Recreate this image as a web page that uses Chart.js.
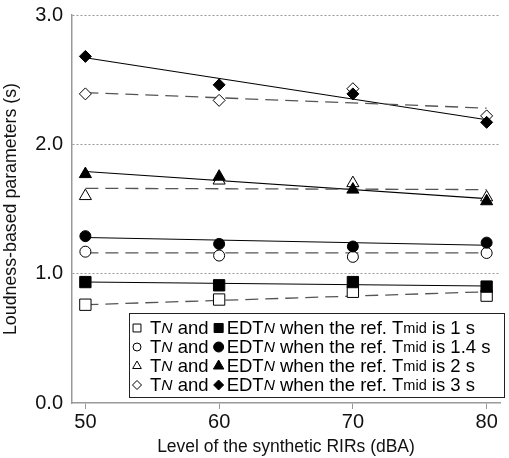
<!DOCTYPE html>
<html>
<head>
<meta charset="utf-8">
<script src="https://cdn.jsdelivr.net/npm/chart.js@4/dist/chart.umd.min.js"></script>
<style>
  html, body { margin: 0; padding: 0; background: #fff; }
  #wrap { width: 509px; height: 458px; }
</style>
</head>
<body>
<div id="wrap"><canvas id="chart"></canvas></div>
<script>
// levels of the synthetic RIRs (dBA)
const levels = [50, 60, 70, 80];
const xTicks = [50, 60, 70, 80];
const yTicks = [0, 1, 2, 3];

// TN (open markers) and EDTN (filled markers) for each ref. Tmid
const tn1 = [0.76, 0.80, 0.86, 0.83];
const edt1 = [0.935, 0.91, 0.935, 0.90];
const tn14 = [1.17, 1.14, 1.13, 1.16];
const edt14 = [1.29, 1.23, 1.21, 1.24];
const tn2 = [1.60, 1.72, 1.70, 1.59];
const edt2 = [1.77, 1.75, 1.65, 1.56];
const tn3 = [2.39, 2.34, 2.43, 2.22];
const edt3 = [2.68, 2.46, 2.39, 2.17];

// fitted trend lines, value at 50 and at 80 dBA
const trendX = [50, 80];
const tn1Fit = [0.76, 0.86];
const edt1Fit = [0.935, 0.905];
const tn14Fit = [1.16, 1.16];
const edt14Fit = [1.28, 1.22];
const tn2Fit = [1.66, 1.65];
const edt2Fit = [1.79, 1.58];
const tn3Fit = [2.40, 2.28];
const edt3Fit = [2.67, 2.19];

const groups = [
  { style: 'rect', tn: tn1, edt: edt1, tnFit: tn1Fit, edtFit: edt1Fit, label: '1 s', r: 8, lo: 5.6, lf: 6.4 },
  { style: 'circle', tn: tn14, edt: edt14, tnFit: tn14Fit, edtFit: edt14Fit, label: '1.4 s', r: 5.5, lo: 4, lf: 5 },
  { style: 'triangle', tn: tn2, edt: edt2, tnFit: tn2Fit, edtFit: edt2Fit, label: '2 s', r: 7, lo: 5, lf: 6 },
  { style: 'rectRot', tn: tn3, edt: edt3, tnFit: tn3Fit, edtFit: edt3Fit, label: '3 s', r: 6, lo: 4.5, lf: 5 }
];

const pts = (xs, ys) => xs.map((x, i) => ({ x: x, y: ys[i] }));

const datasets = [];
groups.forEach(g => {
  datasets.push({
    type: 'line', data: pts(trendX, g.tnFit), borderColor: '#555', borderWidth: 1.3,
    borderDash: [13, 7], pointRadius: 0, fill: false, order: 5
  });
  datasets.push({
    type: 'line', data: pts(trendX, g.edtFit), borderColor: '#000', borderWidth: 1.1,
    pointRadius: 0, fill: false, order: 5
  });
  datasets.push({
    data: pts(levels, g.tn), pointStyle: g.style, pointRadius: g.r,
    backgroundColor: '#fff', borderColor: '#000', borderWidth: 1, showLine: false, order: 2
  });
  datasets.push({
    data: pts(levels, g.edt), pointStyle: g.style, pointRadius: g.r,
    backgroundColor: '#000', borderColor: '#000', borderWidth: 1, showLine: false, order: 1
  });
});

const FONT = '"Liberation Sans", Arial, sans-serif';

const legendBox = {
  id: 'legendBox',
  afterDraw(chart) {
    const ctx = chart.ctx;
    const x0 = 129, y0 = 313, x1 = 504, y1 = 397;
    ctx.save();
    ctx.fillStyle = '#fff';
    ctx.fillRect(x0, y0, x1 - x0, y1 - y0);
    ctx.strokeStyle = '#222';
    ctx.lineWidth = 1;
    ctx.strokeRect(x0 + 0.5, y0 + 0.5, x1 - x0, y1 - y0);
    ctx.textBaseline = 'middle';
    const big = '18.5px ' + FONT, ital = 'italic 15.5px ' + FONT, small = '14.5px ' + FONT;
    groups.forEach((g, i) => {
      const y = y0 + 15 + i * 19;
      let x = 137;
      const mk = (fill, r) => {
        ctx.fillStyle = fill; ctx.strokeStyle = '#000';
        Chart.helpers.drawPoint(ctx, { pointStyle: g.style, radius: r, rotation: 0, borderWidth: 1 }, x, y);
      };
      const txt = (s, f) => {
        ctx.font = f; ctx.fillStyle = '#000';
        ctx.fillText(s, x, y + 1);
        x += ctx.measureText(s).width;
      };
      mk('#fff', g.lo);
      x += 13;
      txt('T', big); txt('N', ital); txt(' and ', big);
      x += 5; mk('#000', g.lf); x += 8;
      txt('EDT', big); txt('N', ital); txt(' when the ref. T', big); txt('mid', small);
      txt(' is ' + g.label, big);
    });
    ctx.restore();
  }
};

new Chart(document.getElementById('chart'), {
  type: 'scatter',
  data: { datasets: datasets },
  plugins: [legendBox],
  options: {
    responsive: true,
    maintainAspectRatio: false,
    animation: false,
    layout: { padding: { top: 15, right: 0, left: 0, bottom: 0 } },
    plugins: { legend: { display: false }, tooltip: { enabled: false } },
    scales: {
      x: {
        type: 'linear', min: 49, max: 81,
        afterBuildTicks: s => { s.ticks = xTicks.map(v => ({ value: v })); },
        afterFit: s => { s.height = 55; s.paddingLeft = 0; s.paddingRight = 0; },
        grid: { drawOnChartArea: false, drawTicks: true, tickLength: 6, color: '#999' },
        border: { color: '#999', width: 1.5 },
        ticks: { color: '#111', font: { family: FONT, size: 20 }, padding: 1, maxRotation: 0 },
        title: { display: true, text: 'Level of the synthetic RIRs (dBA)', color: '#111',
                 font: { family: FONT, size: 17.5 }, padding: { top: 0, bottom: 0 } }
      },
      y: {
        min: 0, max: 3,
        afterBuildTicks: s => { s.ticks = yTicks.map(v => ({ value: v })); },
        afterFit: s => { s.width = 72; s.paddingTop = 0; s.paddingBottom = 0; },
        grid: {
          color: c => c.tick && c.tick.value === 0 ? 'rgba(0,0,0,0)' : '#999',
          lineWidth: 1, drawTicks: false
        },
        border: { color: '#999', width: 1.5, dash: [2, 2] },
        ticks: { color: '#111', font: { family: FONT, size: 20 }, padding: 9,
                 callback: v => Number(v).toFixed(1) },
        title: { display: true, text: 'Loudness-based parameters (s)', color: '#111',
                 font: { family: FONT, size: 17.8 }, padding: { top: 0, bottom: 4 } }
      }
    }
  }
});
</script>
</body>
</html>
